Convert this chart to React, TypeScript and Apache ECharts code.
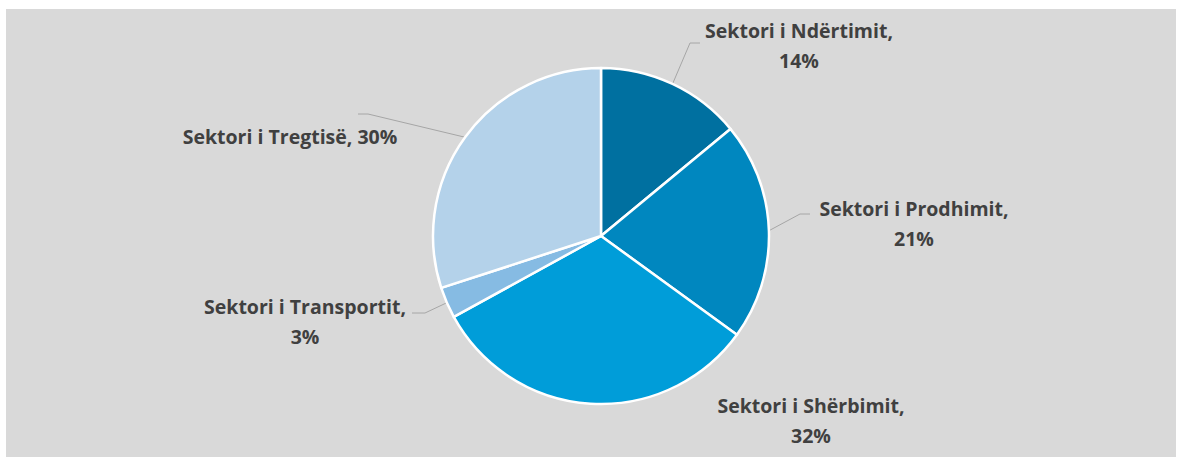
import React, { useEffect, useRef } from "react";
import * as echarts from "echarts";

const sectors = [
  "Sektori i Ndërtimit",
  "Sektori i Prodhimit",
  "Sektori i Shërbimit",
  "Sektori i Transportit",
  "Sektori i Tregtisë",
];
const shares = [14, 21, 32, 3, 30];
const colors = ["#0070A0", "#0087BF", "#009DD9", "#86BBE3", "#B4D2EA"];
const wrapLabel = [true, true, true, true, false];
const showLine = [true, true, false, true, true];
// label block centres (px within chart)
const labelPos: [number, number][] = [
  [799, 45],
  [914, 223],
  [811, 420],
  [305, 321],
  [290, 136],
];
// leader-line elbow and end, relative to label centre
const lineElbow: ([number, number] | null)[] = [
  [-109, -2],
  [-114, -9],
  null,
  [120, -8],
  [78, -22],
];
const lineEnd: ([number, number] | null)[] = [
  [-99, -2],
  [-104, -9],
  null,
  [107, -8],
  [68, -22],
];

export default function App() {
  const ref = useRef<HTMLDivElement>(null);
  useEffect(() => {
    if (!ref.current) return;
    const chart = echarts.init(ref.current, null, { renderer: "svg" });
    chart.setOption({
      animation: false,
      backgroundColor: "#ffffff",
      graphic: [
        {
          type: "rect",
          shape: { x: 6, y: 9, width: 1170, height: 448 },
          style: { fill: "#D9D9D9" },
          z: -10,
        },
      ],
      series: [
        {
          type: "pie",
          center: [601, 236],
          radius: [0, 168],
          startAngle: 90,
          clockwise: true,
          itemStyle: { borderColor: "#ffffff", borderWidth: 2.5 },
          label: {
            show: true,
            position: "outside",
            color: "#404040",
            fontFamily: "Open Sans",
            fontWeight: "bold",
            fontSize: 19.5,
            lineHeight: 30,
            align: "center",
            formatter: (p: any) =>
              wrapLabel[p.dataIndex]
                ? `${p.name},\n${p.value}%`
                : `${p.name}, ${p.value}%`,
          },
          labelLine: {
            show: true,
            length: 15,
            length2: 10,
            lineStyle: { color: "#A6A6A6", width: 1 },
          },
          labelLayout: (params: any) => {
            const i = params.dataIndex;
            const [x, y] = labelPos[i];
            const out: any = { x, y, align: "center", verticalAlign: "middle" };
            const pts = params.labelLinePoints;
            const el = lineElbow[i];
            const en = lineEnd[i];
            if (pts && pts[0] && el && en) {
              out.labelLinePoints = [
                [pts[0][0], pts[0][1]],
                [x + el[0], y + el[1]],
                [x + en[0], y + en[1]],
              ];
            }
            return out;
          },
          data: sectors.map((name, i) => ({
            name,
            value: shares[i],
            itemStyle: { color: colors[i] },
            labelLine: { show: showLine[i] },
          })),
        },
      ],
    });
    return () => chart.dispose();
  }, []);
  return (
    <div
      ref={ref}
      style={{
        position: "fixed",
        left: 0,
        top: 0,
        width: 1181,
        height: 457,
      }}
    />
  );
}
